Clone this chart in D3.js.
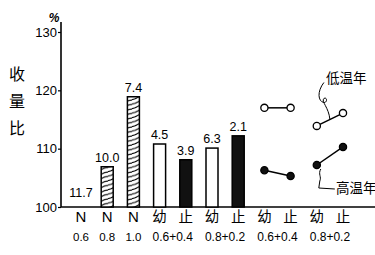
<!DOCTYPE html>
<html>
<head>
<meta charset="utf-8">
<script src="https://cdn.jsdelivr.net/npm/d3@7"></script>
<style>
  body { margin: 0; background: #fff; }
  text { font-family: "Liberation Sans", Arial, sans-serif; }
  .cjk { font-family: "Noto Sans CJK SC", sans-serif; }
</style>
</head>
<body>
<div id="chart"></div>
<script>
// categories along the x axis
var slots = ["N0.6", "N0.8", "N1.0", "幼a", "止a", "幼b", "止b", "幼c", "止c", "幼d", "止d"];
var slotNames = ["N", "N", "N", "幼", "止", "幼", "止", "幼", "止", "幼", "止"];

// bars
var barSlots = ["N0.6", "N0.8", "N1.0", "幼a", "止a", "幼b", "止b"];
var barValues = [100, 106.9, 118.9, 110.8, 108.1, 110.1, 112.2];
var barLabels = ["11.7", "10.0", "7.4", "4.5", "3.9", "6.3", "2.1"];
var barKinds = ["hatch", "hatch", "hatch", "open", "solid", "open", "solid"];

// paired points (lines)
var lowSlots06 = ["幼c", "止c"], lowValues06 = [117, 117];
var highSlots06 = ["幼c", "止c"], highValues06 = [106.3, 105.3];
var lowSlots08 = ["幼d", "止d"], lowValues08 = [113.9, 116.1];
var highSlots08 = ["幼d", "止d"], highValues08 = [107.2, 110.3];

// second-row tick labels
var subLabels = ["0.6", "0.8", "1.0"];
var groupLabels = ["0.6+0.4", "0.8+0.2", "0.6+0.4", "0.8+0.2"];
var groupPairs = [["幼a", "止a"], ["幼b", "止b"], ["幼c", "止c"], ["幼d", "止d"]];
var yTicks = [100, 110, 120, 130];

var W = 375, H = 255;
var svg = d3.select("#chart").append("svg").attr("width", W).attr("height", H);

var x = d3.scalePoint().domain(slots).range([81, 343]);
var y = d3.scaleLinear().domain([100, 130]).range([207, 32]);
var barW = 12;

// wavy hatch pattern
var defs = svg.append("defs");
var pat = defs.append("pattern").attr("id", "wave")
  .attr("patternUnits", "userSpaceOnUse").attr("width", 12).attr("height", 4.5);
pat.append("rect").attr("width", 12).attr("height", 4.5).attr("fill", "#fff");
pat.append("path")
  .attr("d", "M0,0.5 C5,0.5 6,-3.5 12,-3.5 M0,5 C5,5 6,1 12,1 M0,9.5 C5,9.5 6,5.5 12,5.5")
  .attr("fill", "none").attr("stroke", "#000").attr("stroke-width", 1.1);

// axes
var yAxis = d3.axisLeft(y).tickValues(yTicks).tickSize(3).tickPadding(1);
var gy = svg.append("g").attr("transform", "translate(61,0)").call(yAxis);
gy.select(".domain").remove();
gy.selectAll("text").attr("font-size", 13).attr("fill", "#000")
  .attr("font-family", "Liberation Sans, Arial, sans-serif");
gy.selectAll("line").attr("stroke", "#000").attr("stroke-width", 1.2);

svg.append("line").attr("x1", 61).attr("x2", 61).attr("y1", 22).attr("y2", y(100))
  .attr("stroke", "#000").attr("stroke-width", 1.6);
svg.append("line").attr("x1", 61).attr("x2", W).attr("y1", y(100)).attr("y2", y(100))
  .attr("stroke", "#000").attr("stroke-width", 1.6);

svg.append("text").attr("x", 54).attr("y", 22).attr("text-anchor", "middle")
  .attr("font-size", 12).attr("font-style", "italic").attr("font-weight", "bold").text("%");

// y title, vertical
svg.append("g").selectAll("text").data(["收", "量", "比"]).enter().append("text")
  .attr("class", "cjk").attr("x", 17).attr("y", function(d, i) { return 80 + i * 27; })
  .attr("text-anchor", "middle").attr("font-size", 16).text(function(d) { return d; });

// bars
var bars = barSlots.map(function(s, i) {
  return { slot: s, v: barValues[i], label: barLabels[i], kind: barKinds[i] };
});
svg.append("g").selectAll("rect").data(bars.filter(function(d) { return d.v > 100; }))
  .enter().append("rect")
  .attr("x", function(d) { return x(d.slot) - barW / 2; })
  .attr("y", function(d) { return y(d.v); })
  .attr("width", barW)
  .attr("height", function(d) { return y(100) - y(d.v); })
  .attr("fill", function(d) { return d.kind === "hatch" ? "url(#wave)" : d.kind === "solid" ? "#111" : "#fff"; })
  .attr("stroke", "#000").attr("stroke-width", 1.5);

svg.append("g").selectAll("text").data(bars).enter().append("text")
  .attr("x", function(d) { return x(d.slot); })
  .attr("y", function(d) { return y(d.v) - (d.v > 100 ? 5 : 10); })
  .attr("text-anchor", "middle").attr("font-size", 12.5)
  .text(function(d) { return d.label; });

// paired lines
function pairLine(slotsArr, vals, open) {
  var pts = slotsArr.map(function(s, i) { return [x(s), y(vals[i])]; });
  svg.append("path").attr("d", d3.line()(pts)).attr("stroke", "#000")
    .attr("stroke-width", 1.5).attr("fill", "none");
  svg.append("g").selectAll("circle").data(pts).enter().append("circle")
    .attr("cx", function(d) { return d[0]; }).attr("cy", function(d) { return d[1]; })
    .attr("r", 3.6).attr("fill", open ? "#fff" : "#111")
    .attr("stroke", "#000").attr("stroke-width", 1.3);
  return pts;
}
pairLine(lowSlots06, lowValues06, true);
pairLine(highSlots06, highValues06, false);
var lp = pairLine(lowSlots08, lowValues08, true);
var hp = pairLine(highSlots08, highValues08, false);

// annotations
var lm = [(lp[0][0] + lp[1][0]) / 2, (lp[0][1] + lp[1][1]) / 2];
svg.append("path")
  .attr("d", "M" + (lm[0] - 6) + "," + (lm[1] - 37) +
    " C" + (lm[0] - 13) + "," + (lm[1] - 28) + " " + (lm[0] - 12) + "," + (lm[1] - 18) + " " + (lm[0] - 6) + "," + (lm[1] - 17) +
    " C" + (lm[0] - 2) + "," + (lm[1] - 17) + " " + (lm[0] - 3) + "," + (lm[1] - 23) + " " + (lm[0] - 6) + "," + (lm[1] - 21) +
    " C" + (lm[0] - 9) + "," + (lm[1] - 18) + " " + (lm[0] - 1) + "," + (lm[1] - 12) + " " + lm[0] + "," + lm[1])
  .attr("fill", "none").attr("stroke", "#000").attr("stroke-width", 1);
svg.append("text").attr("class", "cjk").attr("x", 326).attr("y", 83)
  .attr("font-size", 13.5).text("低温年");

var hx = hp[0][0] + 4, hy = hp[0][1] + 4;
svg.append("path")
  .attr("d", "M" + hx + "," + hy + " C" + (hx - 3) + "," + (hy + 5) + " " + (hx + 1) + "," + (hy + 8) + " " + (hx - 1) + "," + (hy + 12) +
    " L" + (hx - 2) + "," + (hy + 19) + " L" + (hx + 14) + "," + (hy + 20))
  .attr("fill", "none").attr("stroke", "#000").attr("stroke-width", 1);
svg.append("text").attr("class", "cjk").attr("x", 336).attr("y", 193)
  .attr("font-size", 13.5).text("高温年");

// x labels row 1
svg.append("g").selectAll("text").data(slots).enter().append("text")
  .attr("x", function(d) { return x(d); }).attr("y", 222)
  .attr("text-anchor", "middle")
  .attr("class", function(d, i) { return i < 3 ? "" : "cjk"; })
  .attr("font-family", function(d, i) { return i < 3 ? "Liberation Serif, serif" : null; })
  .attr("font-size", function(d, i) { return i < 3 ? 15 : 14.5; })
  .text(function(d, i) { return slotNames[i]; });

// x labels row 2
svg.append("g").selectAll("text").data(subLabels).enter().append("text")
  .attr("x", function(d, i) { return x(slots[i]); }).attr("y", 241)
  .attr("text-anchor", "middle").attr("font-size", 11.5)
  .text(function(d) { return d; });
svg.append("g").selectAll("text").data(groupLabels).enter().append("text")
  .attr("x", function(d, i) { return (x(groupPairs[i][0]) + x(groupPairs[i][1])) / 2; })
  .attr("y", 241).attr("text-anchor", "middle").attr("font-size", 12)
  .text(function(d) { return d; });
</script>
</body>
</html>
